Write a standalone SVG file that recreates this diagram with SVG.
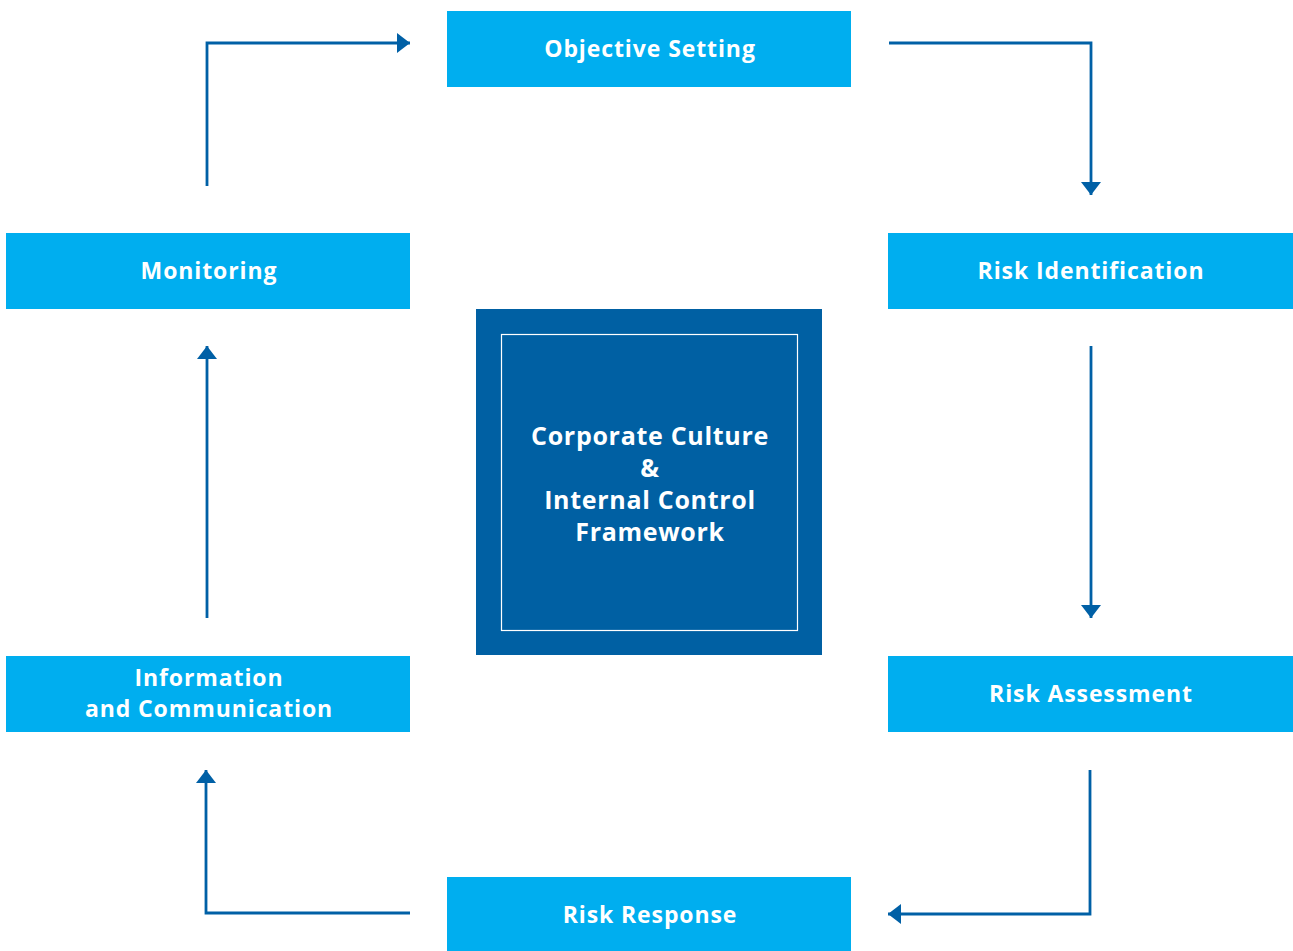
<svg xmlns="http://www.w3.org/2000/svg" width="1293" height="951" viewBox="0 0 1293 951">
  <style>
    .step { fill: #00AEEF; }
    .label { fill: #FFFFFF; font-family: "Open Sans", "Liberation Sans", sans-serif; font-weight: 700; font-size: 23px; letter-spacing: 0.9px; text-anchor: middle; }
    .core-label { font-size: 25px; letter-spacing: 0.7px; }
    .link { fill: none; stroke: #0060A6; stroke-width: 2.8; marker-end: url(#head); }
  </style>
  <defs>
    <marker id="head" viewBox="0 0 13 20" refX="13" refY="10" markerWidth="13" markerHeight="20" markerUnits="userSpaceOnUse" orient="auto">
      <path d="M0,0 L13,10 L0,20 Z" fill="#0060A6"/>
    </marker>
  </defs>
  <rect width="1293" height="951" fill="#FFFFFF"/>

  <!-- cycle connectors -->
  <g id="connectors">
    <path class="link" d="M207,186 V43 H410"/>
    <path class="link" d="M889,43 H1091 V195"/>
    <path class="link" d="M1091,346 V618"/>
    <path class="link" d="M1090,770 V914 H888"/>
    <path class="link" d="M410,913 H206 V770"/>
    <path class="link" d="M207,618 V346"/>
  </g>

  <g id="objective-setting">
    <rect class="step" x="447" y="11" width="404" height="76"/>
    <text class="label" x="650" y="57">Objective Setting</text>
  </g>
  <g id="risk-identification">
    <rect class="step" x="888" y="233" width="405" height="76"/>
    <text class="label" x="1091" y="279">Risk Identification</text>
  </g>
  <g id="risk-assessment">
    <rect class="step" x="888" y="656" width="405" height="76"/>
    <text class="label" x="1091" y="702">Risk Assessment</text>
  </g>
  <g id="risk-response">
    <rect class="step" x="447" y="877" width="404" height="74"/>
    <text class="label" x="650" y="923">Risk Response</text>
  </g>
  <g id="information-communication">
    <rect class="step" x="6" y="656" width="404" height="76"/>
    <text class="label" x="209" y="686">Information</text>
    <text class="label" x="209" y="717">and Communication</text>
  </g>
  <g id="monitoring">
    <rect class="step" x="6" y="233" width="404" height="76"/>
    <text class="label" x="209" y="279">Monitoring</text>
  </g>

  <g id="core">
    <rect x="476" y="309" width="346" height="346" fill="#0060A3"/>
    <rect x="501.5" y="334.5" width="296" height="296" fill="none" stroke="#FFFFFF" stroke-width="1.2"/>
    <text class="label core-label" x="650" y="445">Corporate Culture</text>
    <text class="label core-label" x="650" y="477">&amp;</text>
    <text class="label core-label" x="650" y="509">Internal Control</text>
    <text class="label core-label" x="650" y="541">Framework</text>
  </g>
</svg>
